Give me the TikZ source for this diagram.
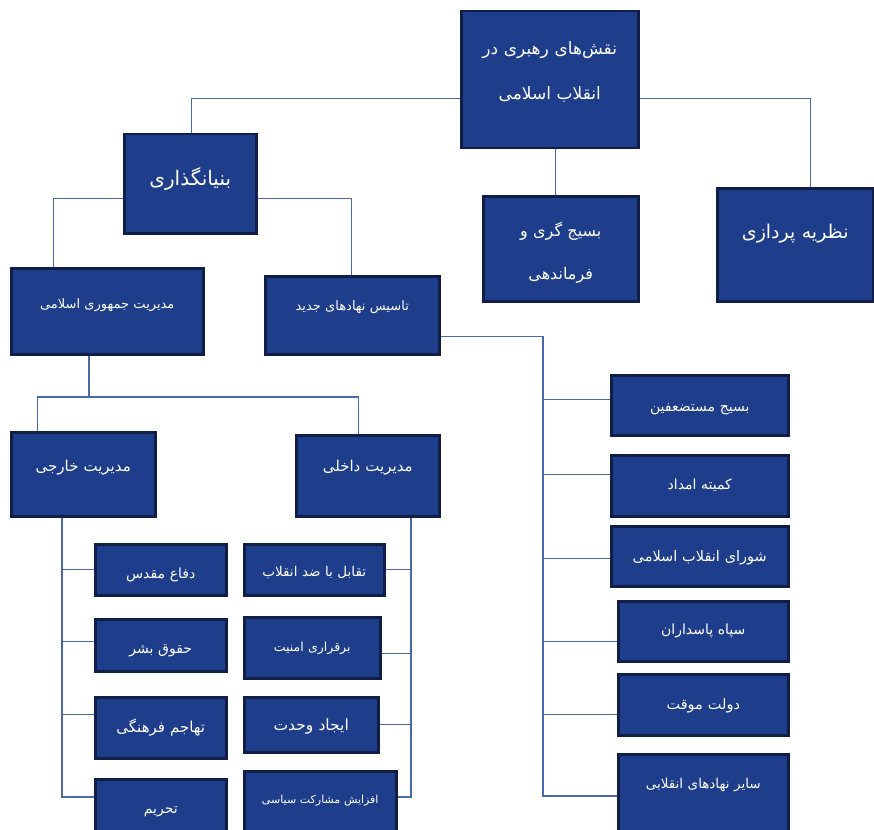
\documentclass[tikz,border=0pt]{standalone}
\usepackage{fontspec}
\usepackage{xcolor}
\newfontfamily\farsifont[Script=Arabic]{DejaVu Sans}
\TeXXeTstate=1
\newcommand\fatxt[1]{\beginR#1\endR}
\newcommand\fasize[1]{\farsifont\fontsize{#1}{1.2\dimexpr#1\relax}\selectfont}
\definecolor{boxblue}{RGB}{30,62,140}
\definecolor{boxedge}{RGB}{16,30,72}
\definecolor{linkblue}{RGB}{74,104,168}

\begin{document}
\begin{tikzpicture}[x=1pt,y=-1pt,
  box/.style={draw=boxedge, line width=2.5pt, fill=boxblue, text=white,
    anchor=north west, inner sep=0pt, align=center, font=\fasize{14pt}},
  link/.style={draw=linkblue, line width=1.2pt}]
\useasboundingbox (0,0) rectangle (874,829);

\node[box, font=\farsifont\fontsize{17pt}{45pt}\selectfont, text width=177pt, text height=43pt, text depth=94pt] (roles) at (460,10)
  {\fatxt{نقش‌های رهبری در}\\\fatxt{انقلاب اسلامی}};
\node[box, font=\farsifont\fontsize{16pt}{43pt}\selectfont, text width=155pt, text height=40pt, text depth=65pt] (mobil) at (482,195)
  {\fatxt{بسیج گری و}\\\fatxt{فرماندهی}};
\node[box, font=\fasize{19pt}, text width=156pt, text height=50pt, text depth=63pt] (theory) at (716,187)
  {\fatxt{نظریه پردازی}};
\node[box, font=\fasize{20pt}, text width=132pt, text height=51pt, text depth=48pt] (found) at (123,133)
  {\fatxt{بنیانگذاری}};

\node[box, font=\fasize{13pt}, text width=192pt, text height=40pt, text depth=46pt] (mgmt) at (10,267) {\fatxt{مدیریت جمهوری اسلامی}};
\node[box, font=\fasize{13pt}, text width=174pt, text height=34pt, text depth=44pt] (inst) at (264,275) {\fatxt{تاسیس نهادهای جدید}};
\node[box, font=\fasize{15pt}, text width=144pt, text height=39pt, text depth=45pt] (ext) at (10,431) {\fatxt{مدیریت خارجی}};
\node[box, font=\fasize{15pt}, text width=143pt, text height=36pt, text depth=45pt] (int) at (295,434) {\fatxt{مدیریت داخلی}};

\node[box, text width=131pt, text height=34pt, text depth=17pt] (dafa) at (94,543) {\fatxt{دفاع مقدس}};
\node[box, text width=131pt, text height=34pt, text depth=18pt] (haqq) at (94,618) {\fatxt{حقوق بشر}};
\node[box, font=\fasize{15pt}, text width=131pt, text height=35pt, text depth=26pt] (tahajom) at (94,696) {\fatxt{تهاجم فرهنگی}};
\node[box, text width=131pt, text height=34pt, text depth=28pt] (tahrim) at (94,778) {\fatxt{تحریم}};

\node[box, font=\fasize{13.5pt}, text width=140pt, text height=32pt, text depth=19pt] (taqabol) at (243,543) {\fatxt{تقابل با ضد انقلاب}};
\node[box, font=\fasize{12.5pt}, text width=136pt, text height=34pt, text depth=27pt] (amniat) at (243,616) {\fatxt{برقراری امنیت}};
\node[box, font=\fasize{15.5pt}, text width=134pt, text height=33pt, text depth=22pt] (vahdat) at (243,696) {\fatxt{ایجاد وحدت}};
\node[box, font=\fasize{11pt}, text width=152pt, text height=32pt, text depth=38pt] (mosh) at (243,770) {\fatxt{افزایش مشارکت سیاسی}};

\node[box, text width=177pt, text height=36pt, text depth=24pt] (basij) at (610,374) {\fatxt{بسیج مستضعفین}};
\node[box, text width=177pt, text height=34pt, text depth=27pt] (komite) at (610,454) {\fatxt{کمیته امداد}};
\node[box, font=\fasize{14.5pt}, text width=177pt, text height=35pt, text depth=25pt] (shura) at (610,525) {\fatxt{شورای انقلاب اسلامی}};
\node[box, text width=170pt, text height=33pt, text depth=27pt] (sepah) at (617,600) {\fatxt{سپاه پاسداران}};
\node[box, font=\fasize{14.5pt}, text width=170pt, text height=35pt, text depth=26pt] (dolat) at (617,673) {\fatxt{دولت موقت}};
\node[box, font=\fasize{13.5pt}, text width=170pt, text height=34pt, text depth=53pt] (sayer) at (617,753) {\fatxt{سایر نهادهای انقلابی}};

\coordinate (mfork) at (89,397);
\coordinate (efoot) at (62,797);
\coordinate (ifoot) at (411,797);
\coordinate (rfoot) at (543,796);

\draw[link] ([yshift=-18.5pt]roles.west) -| ([xshift=1pt]found.north);
\draw[link] ([yshift=-18.5pt]roles.east) -| ([xshift=15pt]theory.north);
\draw[link] ([xshift=6pt]roles.south) -- ([xshift=6pt]roles.south |- mobil.north);
\draw[link] ([yshift=-14.5pt]found.west) -| ([xshift=-54pt]mgmt.north);
\draw[link] ([yshift=-14.5pt]found.east) -| ([xshift=-1pt]inst.north);

\draw[link] (mfork |- mgmt.south) -- (mfork);
\draw[link] ([xshift=-46pt]ext.north) |- (mfork) -| ([xshift=-9.5pt]int.north);

\draw[link] (efoot |- ext.south) -- (efoot) -- (efoot -| tahrim.west);
\foreach \n/\s in {dafa/0,haqq/4,tahajom/13.5}
  \draw[link] ([yshift=\s pt]\n.west) -- ([yshift=\s pt]\n.west -| efoot);

\draw[link] (ifoot |- int.south) -- (ifoot) -- (ifoot -| mosh.east);
\foreach \n/\s in {taqabol/0,amniat/-5.5,vahdat/0}
  \draw[link] ([yshift=\s pt]\n.east) -- ([yshift=\s pt]\n.east -| ifoot);

\draw[link] ([yshift=-21pt]inst.east) -| (rfoot) -- (rfoot -| sayer.west);
\foreach \n/\s in {basij/6,komite/11.5,shura/-2,sepah/-10,dolat/-9.5}
  \draw[link] ([yshift=\s pt]\n.west) -- ([yshift=\s pt]\n.west -| rfoot);
\end{tikzpicture}
\end{document}
